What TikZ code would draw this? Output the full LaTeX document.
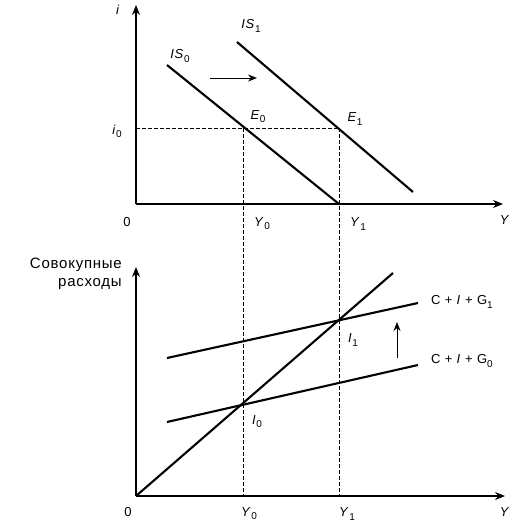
\documentclass[tikz,border=0pt]{standalone}
\usepackage{fontspec}
\setmainfont{Liberation Sans}[LetterSpace=5]
\usetikzlibrary{arrows.meta}
\newcommand{\sbx}[1]{\raisebox{-0.45ex}{\fontsize{10}{10}\selectfont #1}}
\begin{document}
\begin{tikzpicture}[x=1pt,y=-1pt,
  axis/.style={line width=1.5pt,-{Stealth[length=10pt,width=8pt]}},
  curve/.style={line width=2.1pt},
  guide/.style={dash pattern=on 4pt off 2pt,line width=0.7pt},
  shiftarrow/.style={line width=1pt,-{Stealth[length=9pt,width=7pt]}},
  lbl/.style={inner sep=0pt,font=\fontsize{13}{15}\selectfont}]
\useasboundingbox (0,0) rectangle (525,527);
% ---------- top panel ----------
\coordinate (O1) at (136,204);
\coordinate (Itop) at (136,5);
\coordinate (Xtop) at (503,204);
\coordinate (IS0a) at (167,65);
\coordinate (IS0b) at (339,204);
\coordinate (IS1a) at (237,42);
\coordinate (IS1b) at (413,192);
\coordinate (E0) at (243,128);
\coordinate (E1) at (339,128);
\coordinate (I0ax) at (136,128);
\coordinate (Y0b) at (243,496);
\coordinate (Y1b) at (339,496);
\coordinate (ShA) at (210,78);
\coordinate (ShB) at (257,78);
\draw[axis] (O1) -- (Itop);
\draw[axis] (O1) -- (Xtop);
\draw[curve] (IS0a) -- (IS0b);
\draw[curve] (IS1a) -- (IS1b);
\draw[guide] (I0ax) -- (E1);
\draw[guide] (E0) -- (Y0b);
\draw[guide] (E1) -- (Y1b);
\draw[shiftarrow] (ShA) -- (ShB);
\node[lbl] (li) at (118,10) {\textit{i}};
\node[lbl] (lis1) at (251,26) {\textit{IS}\sbx{1}};
\node[lbl] (lis0) at (180,56) {\textit{IS}\sbx{0}};
\node[lbl] (le0) at (258,117) {\textit{E}\sbx{0}};
\node[lbl] (le1) at (355,119) {\textit{E}\sbx{1}};
\node[lbl] (li0) at (117,131) {\textit{i}\sbx{0}};
\node[lbl] (lo1) at (127,222) {0};
\node[lbl] (ly0t) at (262,224) {\textit{Y}\sbx{0}};
\node[lbl] (ly1t) at (358,224) {\textit{Y}\sbx{1}};
\node[lbl] (lyt) at (505,220) {\textit{Y}};
% ---------- bottom panel ----------
\coordinate (O2) at (136,496);
\coordinate (Ebot) at (136,267);
\coordinate (Xbot) at (505,496);
\coordinate (L45) at (393,273);
\coordinate (G1a) at (167,358);
\coordinate (G1b) at (418,303);
\coordinate (G0a) at (167,422);
\coordinate (G0b) at (418,365);
\coordinate (UpA) at (397,358);
\coordinate (UpB) at (397,322);
\draw[axis] (O2) -- (Ebot);
\draw[axis] (O2) -- (Xbot);
\draw[curve] (O2) -- (L45);
\draw[curve] (G1a) -- (G1b);
\draw[curve] (G0a) -- (G0b);
\draw[shiftarrow] (UpA) -- (UpB);
\node[lbl,anchor=east,align=right,font=\fontsize{15}{18}\selectfont] (lexp) at (122,274) {Совокупные\\расходы};
\node[lbl,anchor=west] (lg1) at (431,302) {C + \textit{I} + G\sbx{1}};
\node[lbl,anchor=west] (lg0) at (431,361) {C + \textit{I} + G\sbx{0}};
\node[lbl] (lI1) at (353,340) {\textit{I}\sbx{1}};
\node[lbl] (lI0) at (257,422) {\textit{I}\sbx{0}};
\node[lbl] (lo2) at (128,512) {0};
\node[lbl] (ly0b) at (249,514) {\textit{Y}\sbx{0}};
\node[lbl] (ly1b) at (347,514) {\textit{Y}\sbx{1}};
\node[lbl] (lyb) at (505,512) {\textit{Y}};
\end{tikzpicture}
\end{document}
